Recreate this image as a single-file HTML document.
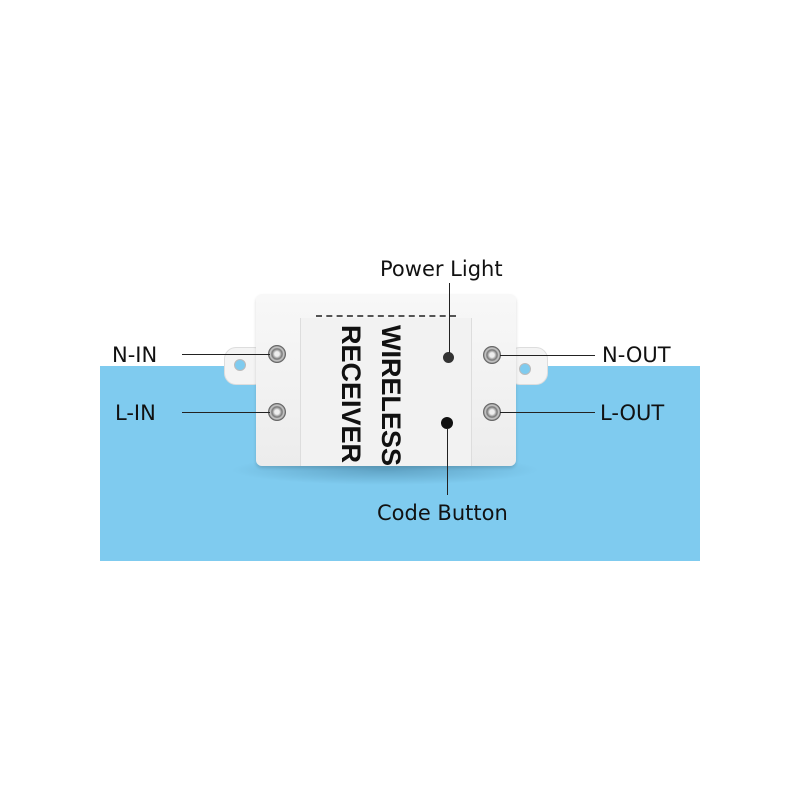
<!DOCTYPE html>
<html><head><style>
body{margin:0;width:800px;height:800px;background:#fff;position:relative;overflow:hidden;font-family:"Liberation Sans",Arial,sans-serif}
.a{position:absolute}
.lbl{position:absolute;font-family:"DejaVu Sans",sans-serif;font-size:21px;color:#111;line-height:1}
.ln{position:absolute;background:#222}
.scr{position:absolute;width:16px;height:16px;border-radius:50%;background:radial-gradient(circle,#eee 20%,#777 45%,#ccc 60%,#555 80%);border:1px solid #666}
</style></head><body>
<div class="a" style="left:100px;top:366px;width:600px;height:195px;background:#7fcbef"></div>
<div class="a" style="left:230px;top:455px;width:310px;height:30px;background:radial-gradient(ellipse,rgba(40,90,120,.35),rgba(0,0,0,0) 70%)"></div>
<div class="a" style="left:224px;top:347px;width:40px;height:36px;background:#f4f4f4;border-radius:12px;border:1px solid #ddd"></div>
<div class="a" style="left:234px;top:359px;width:10px;height:10px;border-radius:50%;background:#7fcbef;border:1px solid #bbb"></div>
<div class="a" style="left:508px;top:347px;width:38px;height:36px;background:#f4f4f4;border-radius:12px;border:1px solid #ddd"></div>
<div class="a" style="left:519px;top:363px;width:10px;height:10px;border-radius:50%;background:#7fcbef;border:1px solid #bbb"></div>
<div class="a" style="left:256px;top:294px;width:260px;height:172px;background:linear-gradient(#f8f8f8,#ececec);border-radius:6px;box-shadow:0 2px 3px rgba(0,0,0,.15)"></div>
<div class="a" style="left:300px;top:318px;width:170px;height:148px;background:#f2f2f2;border-left:1px solid #ddd;border-right:1px solid #ddd"></div>
<div class="a" style="left:316px;top:315px;width:140px;border-top:2px dashed #555"></div>
<div class="a" style="left:330px;top:325px;width:140px;height:80px;transform-origin:0 0;transform:rotate(90deg) translate(0,-80px);font-weight:bold;font-size:27px;line-height:38px;color:#111;white-space:nowrap">
<div style="position:absolute;left:0;top:0;width:140px">WIRELESS</div>
<div style="position:absolute;left:0;top:40px;width:140px">RECEIVER</div>
</div>
<div class="scr" style="left:268px;top:345px"></div>
<div class="scr" style="left:268px;top:403px"></div>
<div class="scr" style="left:483px;top:346px"></div>
<div class="scr" style="left:483px;top:403px"></div>
<div class="a" style="left:443px;top:352px;width:11px;height:11px;border-radius:50%;background:#333"></div>
<div class="a" style="left:441px;top:417px;width:12px;height:12px;border-radius:50%;background:#111"></div>
<div class="ln" style="left:182px;top:354px;width:88px;height:1px"></div>
<div class="ln" style="left:182px;top:412px;width:88px;height:1px"></div>
<div class="ln" style="left:500px;top:355px;width:95px;height:1px"></div>
<div class="ln" style="left:500px;top:412px;width:95px;height:1px"></div>
<div class="ln" style="left:449px;top:283px;width:1px;height:70px"></div>
<div class="ln" style="left:447px;top:428px;width:1px;height:67px"></div>
<div class="lbl" style="left:380px;top:259px">Power Light</div>
<div class="lbl" style="left:112px;top:345px">N-IN</div>
<div class="lbl" style="left:115px;top:403px">L-IN</div>
<div class="lbl" style="left:602px;top:345px">N-OUT</div>
<div class="lbl" style="left:600px;top:403px">L-OUT</div>
<div class="lbl" style="left:377px;top:503px">Code Button</div>
</body></html>
